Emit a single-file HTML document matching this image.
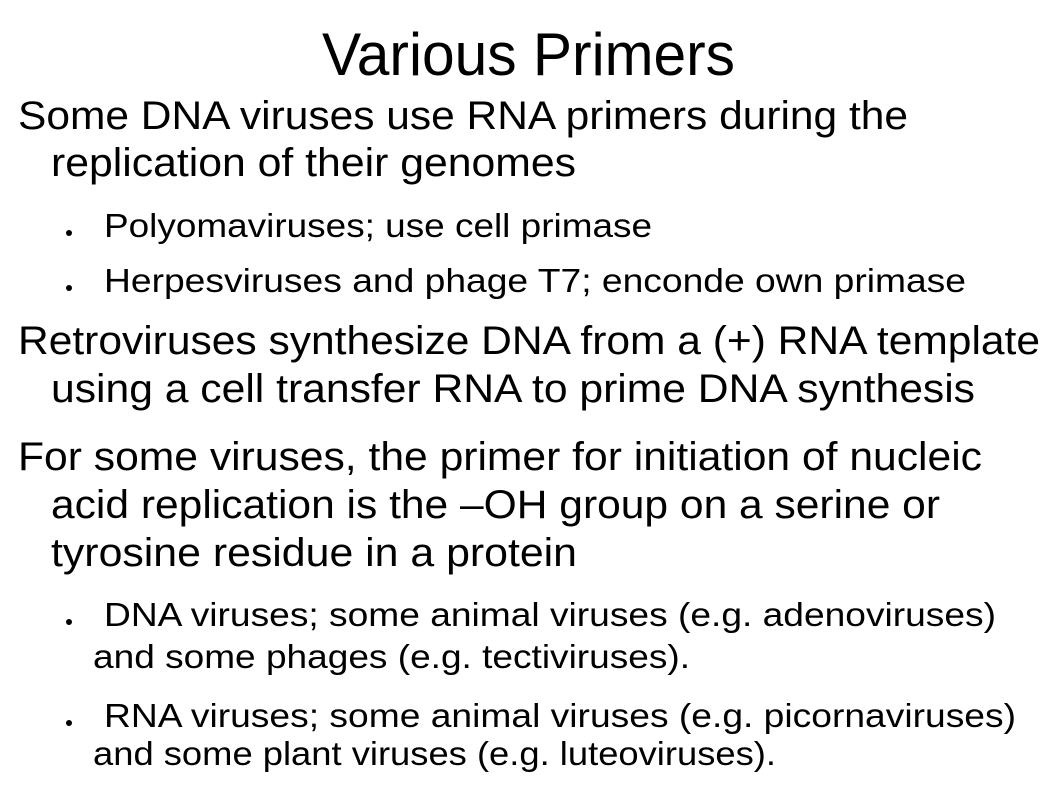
<!DOCTYPE html>
<html><head><meta charset="utf-8"><style>
html,body{margin:0;padding:0;background:#fff;}
svg{display:block;}
text{font-family:"Liberation Sans",Arial,sans-serif;fill:#000;}
</style></head><body>
<svg width="1058" height="794" viewBox="0 0 1058 794">
<rect width="1058" height="794" fill="#fff"/>
<text x="322" y="75" font-size="60" textLength="413" lengthAdjust="spacingAndGlyphs">Various Primers</text>

<g font-size="40">
<text x="18" y="129" textLength="890" lengthAdjust="spacingAndGlyphs">Some DNA viruses use RNA primers during the</text>
<text x="51" y="176" textLength="525" lengthAdjust="spacingAndGlyphs">replication of their genomes</text>
</g>
<g font-size="33">
<circle cx="69" cy="233" r="3" fill="#000"/>
<text x="104" y="237" textLength="548" lengthAdjust="spacingAndGlyphs">Polyomaviruses; use cell primase</text>
</g>
<g font-size="33">
<circle cx="69" cy="288" r="3" fill="#000"/>
<text x="104" y="292" textLength="862" lengthAdjust="spacingAndGlyphs">Herpesviruses and phage T7; enconde own primase</text>
</g>
<g font-size="40">
<text x="18" y="354" textLength="1022" lengthAdjust="spacingAndGlyphs">Retroviruses synthesize DNA from a (+) RNA template</text>
<text x="51" y="402" textLength="924" lengthAdjust="spacingAndGlyphs">using a cell transfer RNA to prime DNA synthesis</text>
</g>
<g font-size="40">
<text x="18" y="470" textLength="964" lengthAdjust="spacingAndGlyphs">For some viruses, the primer for initiation of nucleic</text>
<text x="51" y="518" textLength="889" lengthAdjust="spacingAndGlyphs">acid replication is the –OH group on a serine or</text>
<text x="51" y="566" textLength="526" lengthAdjust="spacingAndGlyphs">tyrosine residue in a protein</text>
</g>
<g font-size="33">
<circle cx="69" cy="622" r="3" fill="#000"/>
<text x="104" y="626" textLength="892" lengthAdjust="spacingAndGlyphs">DNA viruses; some animal viruses (e.g. adenoviruses)</text>
<text x="93" y="668" textLength="597" lengthAdjust="spacingAndGlyphs">and some phages (e.g. tectiviruses).</text>
</g>
<g font-size="33">
<circle cx="69" cy="723" r="3" fill="#000"/>
<text x="104" y="727" textLength="912" lengthAdjust="spacingAndGlyphs">RNA viruses; some animal viruses (e.g. picornaviruses)</text>
<text x="93" y="765" textLength="683" lengthAdjust="spacingAndGlyphs">and some plant viruses (e.g. luteoviruses).</text>
</g>
</svg>
</body></html>
